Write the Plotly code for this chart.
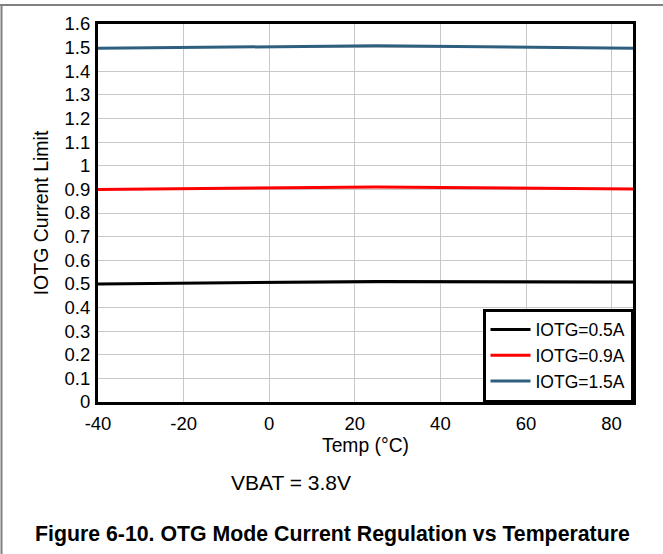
import plotly.graph_objects as go

temps = [-40, 25, 85]
iotg_05 = [0.500, 0.510, 0.508]
iotg_09 = [0.900, 0.910, 0.902]
iotg_15 = [1.497, 1.508, 1.497]
names = ["IOTG=0.5A", "IOTG=0.9A", "IOTG=1.5A"]
colors = ["#000000", "#ff0000", "#2f5f7f"]
x_ticks = [-40, -20, 0, 20, 40, 60, 80]
x_tick_text = ["-40", "-20", "0", "20", "40", "60", "80"]

W, H = 663, 554
L, R, T, B = 98, 30, 24, 152
PW, PH = W - L - R, H - T - B

def px(x):
    return (x - L) / PW

def py(y):
    return (H - B - y) / PH

fig = go.Figure()
for ys, nm, c in zip([iotg_05, iotg_09, iotg_15], names, colors):
    fig.add_trace(go.Scatter(x=temps, y=ys, mode="lines", name=nm,
                             line=dict(color=c, width=3)))

font = "Liberation Sans, Arial, sans-serif"
fig.update_layout(
    width=W, height=H,
    margin=dict(l=L, r=R, t=T, b=B),
    paper_bgcolor="white", plot_bgcolor="white",
    font=dict(family=font, size=18.5, color="black"),
    showlegend=True,
    legend=dict(x=1, y=0, xanchor="right", yanchor="bottom",
                bordercolor="black", borderwidth=2.5, bgcolor="white",
                font=dict(size=17.5), tracegroupgap=0, itemwidth=40),
    xaxis=dict(range=[-40, 85], tickvals=x_ticks, ticktext=x_tick_text,
               showgrid=True, gridcolor="#c8c8c8", gridwidth=1,
               showline=True, mirror=True, linecolor="black", linewidth=3,
               zeroline=False, ticks="", tickfont=dict(size=18.5),
               ticklabelstandoff=3,
               title=dict(text="Temp (°C)", font=dict(size=19.3), standoff=6)),
    yaxis=dict(range=[0, 1.6], dtick=0.1, tickformat="~g",
               showgrid=True, gridcolor="#c8c8c8", gridwidth=1,
               showline=True, mirror=True, linecolor="black", linewidth=3,
               zeroline=False, ticks="", tickfont=dict(size=18.5),
               ticklabelstandoff=1,
               title=dict(text="IOTG Current Limit", font=dict(size=19.5), standoff=11)),
    shapes=[
        dict(type="line", xref="paper", yref="paper", x0=px(0), x1=px(W),
             y0=py(5), y1=py(5), line=dict(color="#808080", width=2)),
        dict(type="line", xref="paper", yref="paper", x0=px(1.5), x1=px(1.5),
             y0=py(5), y1=py(H), line=dict(color="#808080", width=2)),
    ],
    annotations=[
        dict(text="VBAT = 3.8V", xref="paper", yref="paper", x=px(291),
             y=py(482), xanchor="center", yanchor="middle", showarrow=False,
             font=dict(size=21)),
        dict(text="<b>Figure 6-10. OTG Mode Current Regulation vs Temperature</b>",
             xref="paper", yref="paper", x=px(332), y=py(534),
             xanchor="center", yanchor="middle", showarrow=False,
             font=dict(size=21.3)),
    ],
)
fig.write_html("out.html", config={"displayModeBar": False},
               post_script="document.body.style.margin='0';")
